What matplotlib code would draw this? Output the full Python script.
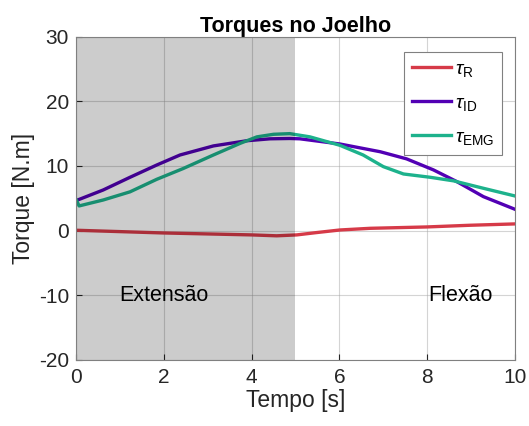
import numpy as np
import matplotlib.pyplot as plt

plt.rcParams['font.family'] = ['Liberation Sans', 'DejaVu Sans']
plt.rcParams['mathtext.fontset'] = 'custom'
plt.rcParams['mathtext.rm'] = 'Liberation Sans'
plt.rcParams['mathtext.it'] = 'Liberation Sans:italic'
plt.rcParams['axes.unicode_minus'] = False

# torque curves
t_r = [0.0, 1.99, 4.0, 4.57, 5.03, 5.48, 6.01, 6.7, 7.99, 8.97, 10.0]
tau_r = [0.06, -0.36, -0.66, -0.8, -0.66, -0.3, 0.1, 0.36, 0.57, 0.83, 1.04]

t_id = [0.0, 0.62, 1.23, 1.84, 2.37, 3.13, 3.89, 4.42, 4.87, 5.1, 6.01, 6.93,
        7.53, 8.14, 8.67, 9.28, 10.0]
tau_id = [4.64, 6.29, 8.25, 10.15, 11.7, 13.1, 13.9, 14.2, 14.25, 14.2, 13.4,
          12.2, 11.1, 9.4, 7.6, 5.26, 3.3]

t_emg = [0.0, 0.07, 0.62, 1.23, 1.84, 2.44, 3.13, 3.74, 4.12, 4.5, 4.87, 5.33,
         6.01, 6.54, 7.0, 7.46, 8.07, 8.6, 9.28, 10.0]
tau_emg = [4.85, 3.82, 4.74, 6.0, 7.94, 9.6, 11.7, 13.5, 14.5, 14.9, 15.0, 14.5,
           13.2, 11.7, 9.9, 8.76, 8.25, 7.7, 6.55, 5.36]

fig = plt.figure(figsize=(5.29, 4.26), dpi=100)
ax = fig.add_axes([0.1437, 0.155, 0.8298, 0.759])

ax.plot(t_r, tau_r, color='#d63a48', lw=2.4, label=r'$\tau_{\mathrm{R}}$', zorder=3)
ax.plot(t_id, tau_id, color='#5200b4', lw=2.4, label=r'$\tau_{\mathrm{ID}}$', zorder=3)
ax.plot(t_emg, tau_emg, color='#1db28c', lw=2.4, label=r'$\tau_{\mathrm{EMG}}$', zorder=3)
# shaded extension phase sits on top of the lines, semi transparent
ax.axvspan(0, 5, color='black', alpha=0.2, zorder=3.5, lw=0)

ax.text(2.0, -10, 'Extensão', ha='center', va='center', fontsize=15.5)
ax.text(8.75, -10, 'Flexão', ha='center', va='center', fontsize=15.5)

ax.set_xlim(0, 10)
ax.set_ylim(-20, 30)
ax.set_xticks(range(0, 11, 2))
ax.set_yticks(range(-20, 31, 10))
ax.grid(True, color='#a0a0a0', alpha=0.45, lw=0.8, zorder=1)
ax.set_axisbelow(True)
ax.tick_params(direction='in', labelsize=15, colors='#262626', length=4)
ax.tick_params(axis='x', pad=6)
ax.tick_params(axis='y', pad=5)
for s in ax.spines.values():
    s.set_color('#808080')
    s.set_zorder(4)

ax.set_xlabel('Tempo [s]', fontsize=16.5, color='#262626', labelpad=1)
ax.set_ylabel('Torque [N.m]', fontsize=16.5, color='#262626', labelpad=3)
ax.set_title('Torques no Joelho', fontsize=15.5, fontweight='bold', pad=3)

leg = ax.legend(loc='upper right', bbox_to_anchor=(0.970, 0.952), fontsize=14,
                fancybox=False, framealpha=1, edgecolor='#808080',
                handlelength=2.0, handletextpad=0.2, labelspacing=0.8,
                borderpad=0.4, borderaxespad=0)
leg.get_frame().set_linewidth(0.8)
leg.set_zorder(5)

fig.savefig('out.png', dpi=100)
